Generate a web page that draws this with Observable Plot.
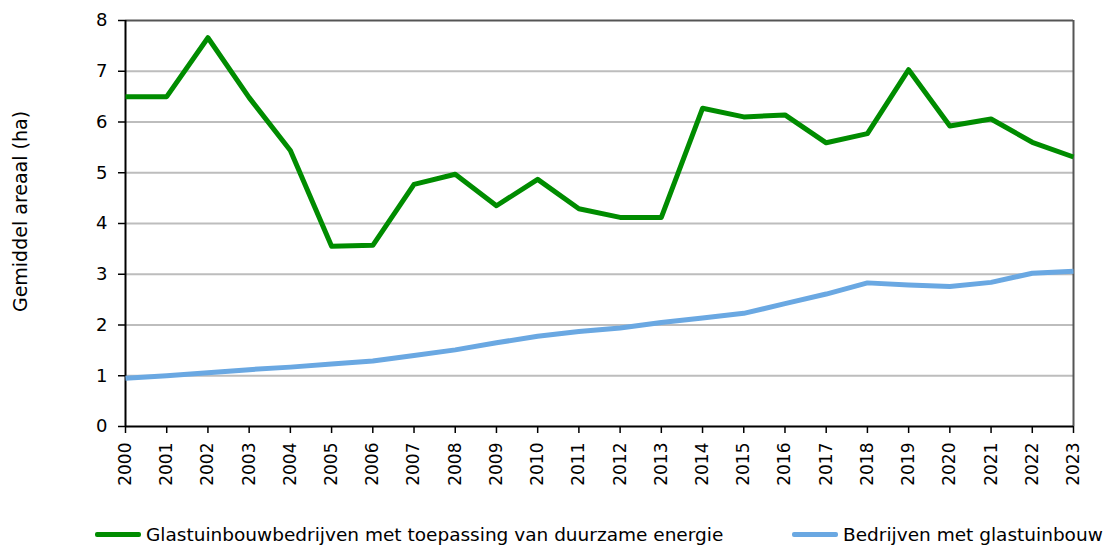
<!DOCTYPE html>
<html>
<head>
<meta charset="utf-8">
<script src="https://cdn.jsdelivr.net/npm/d3@7"></script>
<script src="https://cdn.jsdelivr.net/npm/@observablehq/plot@0.6"></script>
<style>
  body { margin: 0; background: #fff; font-family: "DejaVu Sans", Verdana, sans-serif; }
  #chart { position: relative; width: 1108px; height: 547px; overflow: hidden; }
  .legend { position: absolute; top: 524px; left: 0; width: 1108px; height: 24px; font-size: 18.5px; color: #000; }
  .item { position: absolute; top: 0; display: flex; align-items: center; white-space: nowrap; }
  .sw { width: 46px; height: 5px; margin-right: 5px; border-radius: 2px; }
</style>
</head>
<body>
<div id="chart"></div>
<script>
const years = [2000,2001,2002,2003,2004,2005,2006,2007,2008,2009,2010,2011,2012,2013,2014,2015,2016,2017,2018,2019,2020,2021,2022,2023];
const duurzaam = [6.50,6.50,7.66,6.48,5.44,3.55,3.57,4.77,4.97,4.35,4.87,4.29,4.12,4.12,6.27,6.10,6.14,5.59,5.77,7.03,5.92,6.06,5.60,5.31];
const glastuinbouw = [0.95,1.00,1.06,1.12,1.17,1.23,1.29,1.40,1.51,1.65,1.78,1.87,1.94,2.05,2.14,2.23,2.42,2.61,2.83,2.79,2.76,2.84,3.02,3.06];
const yTicks = [0,1,2,3,4,5,6,7,8];
const seriesNames = ["Glastuinbouwbedrijven met toepassing van duurzame energie", "Bedrijven met glastuinbouw"];
const seriesColors = ["#008c00", "#6aa8e2"];
const yLabel = "Gemiddel areaal (ha)";

const rows = [];
years.forEach((y, i) => {
  rows.push({year: y, value: duurzaam[i], series: seriesNames[0]});
  rows.push({year: y, value: glastuinbouw[i], series: seriesNames[1]});
});

const plot = Plot.plot({
  width: 1108,
  height: 500,
  marginLeft: 125,
  marginRight: 35,
  marginTop: 20,
  marginBottom: 74,
  style: {fontFamily: "DejaVu Sans, Verdana, sans-serif", fontSize: "16px", color: "#000", background: "#fff"},
  x: {domain: [2000, 2023]},
  y: {domain: [0, 8]},
  color: {domain: seriesNames, range: seriesColors},
  marks: [
    Plot.gridY(yTicks.slice(1, 8), {stroke: "#bdbdbd", strokeOpacity: 1, strokeWidth: 2}),
    Plot.ruleY([8], {stroke: "#555", strokeWidth: 2}),
    Plot.ruleX([2023], {stroke: "#555", strokeWidth: 2}),
    Plot.axisY({ticks: yTicks, tickSize: 7, tickPadding: 11, label: null, stroke: "#000", strokeWidth: 1.5, fontSize: 18}),
    Plot.axisX({ticks: years, tickFormat: d => String(d), tickRotate: -90, tickSize: 7, tickPadding: 9, label: null, stroke: "#000", strokeWidth: 1.5, fontSize: 17}),
    Plot.ruleX([2000], {stroke: "#000", strokeWidth: 2}),
    Plot.ruleY([0], {stroke: "#000", strokeWidth: 2}),
    Plot.line(rows, {x: "year", y: "value", z: "series", stroke: "series", strokeWidth: 5, strokeLinejoin: "round", strokeLinecap: "butt"}),
    Plot.text([yLabel], {text: d => d, frameAnchor: "left", textAnchor: "middle", rotate: -90, dx: -105, dy: -12, fontSize: 19, fill: "#000"})
  ]
});

const chart = document.getElementById("chart");
chart.appendChild(plot);

const legend = document.createElement("div");
legend.className = "legend";
const lefts = [95, 792];
seriesNames.forEach((name, i) => {
  const item = document.createElement("div");
  item.className = "item";
  item.style.left = lefts[i] + "px";
  const sw = document.createElement("div");
  sw.className = "sw";
  sw.style.background = seriesColors[i];
  const t = document.createElement("span");
  t.textContent = name;
  item.appendChild(sw);
  item.appendChild(t);
  legend.appendChild(item);
});
chart.appendChild(legend);
</script>
</body>
</html>
